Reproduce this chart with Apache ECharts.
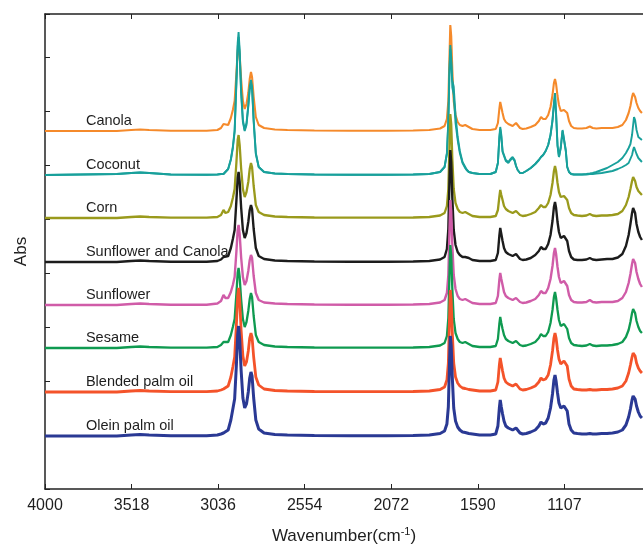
<!DOCTYPE html>
<html>
<head>
<meta charset="utf-8">
<script src="https://cdn.jsdelivr.net/npm/echarts@6/dist/echarts.min.js"></script>
<style>
html,body{margin:0;padding:0;background:#fff;}
#chart{width:643px;height:545px;}
</style>
</head>
<body>
<div id="chart"></div>
<script>
// Wavenumber grid (cm-1), descending
const wavenumbers = [
  4000, 3800, 3600, 3520, 3470, 3420, 3300,
  3100, 3040, 3020, 3006, 2995, 2980, 2965,
  2954, 2944, 2934, 2927, 2922, 2916, 2908,
  2898, 2888, 2878, 2868, 2860, 2853, 2847,
  2838, 2826, 2810, 2780, 2720, 2650, 2500,
  2300, 2100, 1950, 1860, 1800, 1775, 1762,
  1754, 1748, 1743, 1738, 1732, 1724, 1714,
  1702, 1690, 1675, 1660, 1652, 1640, 1620,
  1580, 1520, 1490, 1478, 1470, 1465, 1459,
  1452, 1444, 1434, 1420, 1408, 1396, 1385,
  1377, 1368, 1355, 1340, 1320, 1295, 1270,
  1250, 1238, 1226, 1212, 1198, 1185, 1174,
  1166, 1160, 1154, 1146, 1138, 1128, 1118,
  1110, 1100, 1092, 1082, 1070, 1055, 1035,
  1010, 985, 966, 950, 930, 900, 870,
  840, 810, 785, 765, 750, 740, 731,
  725, 720, 714, 706, 696, 686, 676
];

// Absorbance above each trace's own baseline (arbitrary units)
const canola = [
  0, 0, 0, 1, 1.5, 1, 0.3,
  0.3, 1, 3, 7, 5, 6, 13,
  21, 30, 58, 80, 86, 76, 52,
  30, 22, 27, 38, 52, 59, 54,
  34, 14, 6, 3, 1.5, 1, 0.5,
  0.3, 0.3, 0.5, 1, 2.5, 5, 12,
  30, 72, 106, 95, 62, 30, 16,
  9, 6, 5, 6, 7, 4, 2,
  1, 1, 2, 8, 22, 29, 24,
  18, 12, 9, 7, 6, 5, 7,
  8, 6, 3, 2, 2.5, 4, 6,
  10, 14, 12, 12, 16, 24, 36,
  48, 52, 47, 35, 26, 20, 20,
  21, 22, 18, 10, 5, 3, 2.5,
  2.5, 3, 4.5, 3, 2.5, 3, 3,
  3, 4, 6, 11, 18, 25, 34,
  38, 38, 34, 28, 23, 20, 18
];
const coconutA = [
  0, 0.5, 1, 2, 2.5, 2, 0.5,
  0.3, 0.5, 1, 1, 2, 6, 16,
  28, 45, 95, 132, 143, 125, 85,
  55, 45, 52, 70, 88, 95, 88,
  55, 22, 8, 3, 1.5, 1, 0.5,
  0.3, 0.3, 0.5, 1, 3, 8, 22,
  55, 105, 130, 118, 88, 80, 52,
  35, 22, 12, 7, 5, 3, 2,
  1, 1, 3, 12, 38, 48, 40,
  24, 20, 15, 13, 16, 18, 15,
  9, 5, 2, 2, 4, 7, 11,
  15, 18, 20, 24, 30, 40, 55,
  72, 82, 62, 30, 18, 28, 45,
  46, 25, 8, 3, 1, 0.5, 0.5,
  0.5, 0.5, 1, 1, 1.5, 2, 3,
  4, 6, 8, 10, 12, 14, 20,
  25, 28, 26, 21, 17, 15, 13
];
const coconutB = [
  0, 0.5, 1, 2, 2.5, 2, 0.5,
  0.3, 0.5, 1, 1, 2, 6, 15,
  27, 43, 92, 128, 138, 121, 82,
  53, 44, 50, 68, 85, 92, 86,
  53, 21, 8, 3, 1.5, 1, 0.5,
  0.3, 0.3, 0.5, 1, 3, 8, 21,
  52, 100, 126, 112, 95, 88, 60,
  38, 24, 13, 8, 5, 3, 2,
  1, 1, 3, 12, 36, 46, 38,
  23, 19, 14, 12, 15, 17, 14,
  9, 5, 2, 2, 4, 7, 11,
  15, 18, 20, 24, 30, 40, 54,
  70, 80, 60, 29, 18, 27, 44,
  45, 24, 8, 3, 1, 0.5, 0.5,
  0.5, 1, 1.5, 2, 3, 5, 7,
  10, 13, 17, 22, 27, 31, 40,
  50, 58, 55, 45, 38, 36, 35
];
const corn = [
  0, 0, 0, 1, 1.5, 1, 0.3,
  0.3, 1, 3, 8, 5, 6, 12,
  20, 29, 56, 78, 83, 73, 50,
  29, 21, 26, 36, 49, 55, 51,
  32, 13, 6, 3, 1.5, 1, 0.5,
  0.3, 0.3, 0.5, 1, 2.5, 5, 12,
  29, 70, 104, 94, 60, 29, 15,
  9, 6, 5, 6, 7, 4, 2,
  1, 1, 2, 8, 21, 28, 23,
  18, 12, 9, 7, 6, 5, 6,
  7, 5, 3, 2, 2.5, 4, 6,
  10, 13, 11, 11, 15, 23, 35,
  47, 52, 47, 35, 26, 21, 21,
  22, 22, 18, 10, 5, 3, 2.5,
  2, 2.5, 4, 2.5, 2, 2.5, 2.5,
  3, 4, 7, 13, 21, 29, 37,
  41, 41, 37, 31, 27, 25, 23
];
const sunflowerCanola = [
  0, 0, 0, 1, 1.5, 1, 0.3,
  0.3, 1, 2.5, 5, 4, 6, 14,
  23, 32, 62, 84, 90, 80, 55,
  32, 24, 29, 40, 52, 57, 53,
  33, 14, 6, 3, 1.5, 1, 0.5,
  0.3, 0.3, 0.5, 1, 2.5, 5, 13,
  33, 78, 112, 100, 65, 32, 17,
  10, 7, 5, 5, 5, 4, 2,
  1, 1, 2, 9, 26, 34, 28,
  21, 14, 10, 8, 7, 6, 7,
  8, 6, 3, 2, 2.5, 4, 7,
  11, 15, 13, 13, 18, 27, 41,
  55, 60, 54, 40, 30, 24, 25,
  26, 27, 21, 11, 5, 2.5, 2,
  2, 2.5, 4, 2.5, 2, 2.5, 3,
  3, 4.5, 8, 16, 27, 38, 49,
  54, 55, 49, 38, 30, 25, 22
];
const sunflower = [
  0, 0, 0, 1, 1.5, 1, 0.3,
  0.3, 1.5, 4, 10, 7, 7, 13,
  20, 28, 54, 75, 80, 71, 48,
  28, 20, 24, 34, 45, 50, 47,
  29, 12, 5, 2.5, 1.5, 1, 0.5,
  0.3, 0.3, 0.5, 1, 2.5, 5, 12,
  30, 72, 105, 94, 61, 30, 16,
  9, 6, 5, 6, 8, 4, 2,
  1, 1, 2, 9, 25, 32, 26,
  20, 13, 9, 7, 6, 5, 6,
  7, 5, 3, 2, 2.5, 4, 6,
  10, 14, 12, 12, 17, 26, 39,
  52, 57, 51, 38, 28, 22, 23,
  24, 25, 19, 10, 5, 3, 2.5,
  2.5, 3, 5, 3, 2.5, 3, 3,
  3, 4, 7, 13, 22, 31, 41,
  46, 47, 42, 33, 26, 21, 18
];
const sesame = [
  0, 0, 0, 1, 1.5, 1, 0.3,
  0.3, 1, 3, 6, 5, 6, 13,
  21, 29, 55, 75, 80, 71, 49,
  29, 21, 26, 37, 49, 55, 51,
  32, 13, 6, 3, 1.5, 1, 0.5,
  0.3, 0.3, 0.5, 1, 2.5, 5, 12,
  30, 71, 103, 93, 60, 29, 15,
  9, 6, 5, 6, 7, 4, 2,
  1, 1, 2, 9, 24, 31, 25,
  19, 13, 9, 7, 6, 5, 6,
  7, 5, 3, 2, 2.5, 4, 6,
  10, 14, 12, 12, 16, 25, 38,
  51, 56, 50, 38, 28, 22, 23,
  24, 25, 19, 10, 5, 3, 2.5,
  2, 2.5, 4, 2.5, 2, 2.5, 2.5,
  3, 4, 6, 11, 18, 26, 35,
  39, 40, 35, 27, 21, 17, 15
];
const blendedPalm = [
  0, 0, 0, 1, 1.5, 1, 0.3,
  0.3, 1, 2, 3, 3, 6, 15,
  25, 35, 68, 96, 104, 92, 62,
  36, 26, 30, 41, 54, 59, 55,
  35, 15, 7, 3, 1.5, 1, 0.5,
  0.3, 0.3, 0.5, 1, 2.5, 5, 12,
  29, 70, 102, 92, 60, 29, 15,
  9, 6, 4, 3.5, 3, 2.5, 2,
  1, 1, 2, 10, 27, 34, 28,
  21, 14, 10, 8, 7, 6, 7,
  8, 6, 3, 2, 2.5, 4, 6,
  10, 14, 12, 13, 17, 27, 41,
  54, 59, 54, 42, 33, 28, 29,
  31, 32, 26, 13, 6, 3, 2.5,
  2, 2, 2.5, 2, 2, 2.5, 2.5,
  3, 4, 6, 11, 19, 27, 35,
  39, 40, 36, 29, 24, 21, 19
];
const oleinPalm = [
  0, 0, 0, 1, 1.5, 1, 0.3,
  0.3, 1, 2, 3, 3, 6, 16,
  27, 37, 72, 101, 110, 97, 66,
  38, 28, 32, 44, 58, 64, 60,
  38, 16, 7, 3, 1.5, 1, 0.5,
  0.3, 0.3, 0.5, 1, 2.5, 5, 12,
  29, 69, 100, 90, 59, 28, 15,
  9, 6, 4, 3.5, 3, 2.5, 2,
  1, 1, 2, 10, 28, 36, 29,
  22, 15, 10, 8, 7, 6, 7,
  8, 6, 3, 2, 2.5, 4, 6,
  10, 14, 12, 13, 18, 28, 42,
  56, 61, 55, 43, 33, 28, 29,
  30, 31, 25, 12, 6, 3, 2.5,
  2, 2, 2.5, 2, 2, 2.5, 2.5,
  3, 4, 6, 11, 19, 27, 36,
  40, 41, 37, 30, 24, 20, 18
];

// Oil names, vertical stacking offsets, colours
const oilNames   = ['Canola', 'Coconut', 'Corn', 'Sunflower and Canola', 'Sunflower', 'Sesame', 'Blended palm oil', 'Olein palm oil'];
const oilOffsets = [358, 314, 271, 227, 184, 141, 97, 53];
const oilColors  = ['#F58A2B', '#18A09B', '#9A9A1C', '#1C1C1C', '#D05CA8', '#0F9A50', '#F4532A', '#2A3994'];
const oilSpectra = [[canola], [coconutA, coconutB], [corn], [sunflowerCanola], [sunflower], [sesame], [blendedPalm], [oleinPalm]];
const oilWidths  = [2.1, 1.9, 2.3, 2.4, 2.4, 2.3, 2.8, 3.0];

const xTickLabels = ['4000', '3518', '3036', '2554', '2072', '1590', '1107'];
const X_START = 4000, X_STEP = 482;
const LABEL_WN = 3772;   // wavenumber where the series names start
const LABEL_DY = 10.5;   // name height above its baseline

const chart = echarts.init(document.getElementById('chart'));
const txt = '#1e1e1e';
const fontFam = 'Liberation Sans, Arial, sans-serif';

const series = [];
oilNames.forEach((name, k) => {
  oilSpectra[k].forEach((vals, r) => {
    const s = {
      type: 'line',
      name: name + (r ? ' ' + r : ''),
      data: wavenumbers.map((w, i) => [X_START - w, oilOffsets[k] + vals[i]]),
      showSymbol: false,
      symbol: 'none',
      lineStyle: { color: oilColors[k], width: oilWidths[k] },
      itemStyle: { color: oilColors[k] },
      silent: true,
      animation: false
    };
    if (r === 0) {
      s.markPoint = {
        symbol: 'circle',
        symbolSize: 0,
        silent: true,
        animation: false,
        label: {
          show: true, position: 'right', distance: 0,
          formatter: name, color: txt, fontSize: 14.5, fontFamily: fontFam
        },
        data: [{ coord: [X_START - LABEL_WN, oilOffsets[k] + LABEL_DY] }]
      };
    }
    series.push(s);
  });
});

const xFmt = v => {
  const i = Math.round(v / X_STEP);
  return (Math.abs(v - i * X_STEP) < 0.5 && i < xTickLabels.length) ? xTickLabels[i] : '';
};

const axisLineStyle = { color: '#222', width: 1.5 };
const tickStyle = { color: '#222', width: 1 };

chart.setOption({
  animation: false,
  grid: { left: 45, right: 0, top: 14, bottom: 56, containLabel: false, outerBoundsMode: 'none' },
  xAxis: [
    {
      type: 'value', position: 'bottom', min: 0, max: 3330, interval: X_STEP,
      axisLine: { show: true, lineStyle: axisLineStyle },
      axisTick: { show: true, inside: true, length: 5, lineStyle: tickStyle },
      axisLabel: { formatter: xFmt, fontSize: 16, color: txt, margin: 9, fontFamily: fontFam, showMaxLabel: false },
      splitLine: { show: false },
      name: 'Wavenumber(cm{sup|-1})',
      nameLocation: 'middle', nameGap: 37,
      nameTextStyle: {
        fontSize: 17, color: txt, fontFamily: fontFam,
        rich: { sup: { fontSize: 11, color: txt, fontFamily: fontFam, verticalAlign: 'top', padding: [0, 0, 9, 0] } }
      }
    },
    {
      type: 'value', position: 'top', min: 0, max: 3330, interval: X_STEP,
      axisLine: { show: true, lineStyle: axisLineStyle },
      axisTick: { show: true, inside: true, length: 5, lineStyle: tickStyle },
      axisLabel: { show: false },
      splitLine: { show: false }
    }
  ],
  yAxis: {
    type: 'value', min: 0, max: 475, interval: 54,
    axisLine: { show: true, lineStyle: axisLineStyle },
    axisTick: { show: true, inside: true, length: 5, lineStyle: tickStyle },
    axisLabel: { show: false },
    splitLine: { show: false },
    name: 'Abs', nameLocation: 'middle', nameGap: 15, nameRotate: 90,
    nameTextStyle: { fontSize: 17, color: txt, fontFamily: fontFam }
  },
  series: series
});
</script>
</body>
</html>
